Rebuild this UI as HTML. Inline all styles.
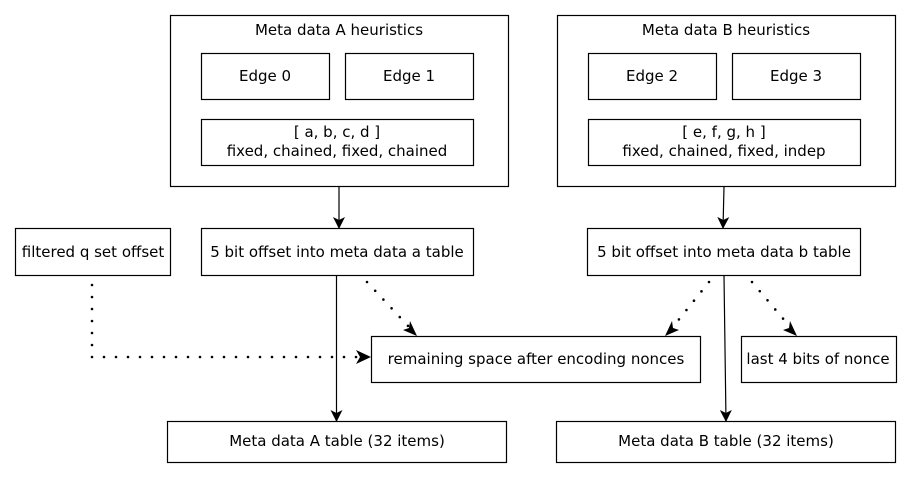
<!DOCTYPE html>
<html><head><meta charset="utf-8"><style>
html,body{margin:0;padding:0;background:#fff;}
svg{display:block;}
text{font-family:"DejaVu Sans","Liberation Sans",sans-serif;font-size:15px;fill:#000;text-anchor:middle;}
</style></head><body>
<svg width="911" height="477" viewBox="0 0 911 477" xmlns="http://www.w3.org/2000/svg">
<defs>
<marker id="ah" markerWidth="12" markerHeight="12" refX="11" refY="6" orient="auto" markerUnits="userSpaceOnUse">
<path d="M0,0 L12,6 L0,12 L3,6 Z" fill="#000"/>
</marker>
</defs>
<g fill="#fff" stroke="#000" stroke-width="1.2">
<rect x="170.5" y="15.5" width="338" height="171"/>
<rect x="201.5" y="53.5" width="128" height="46"/>
<rect x="345.5" y="53.5" width="128" height="46"/>
<rect x="201.5" y="119.5" width="272" height="46"/>
<rect x="557.5" y="15.5" width="338" height="171"/>
<rect x="588.5" y="53.5" width="128" height="46"/>
<rect x="732.5" y="53.5" width="128" height="46"/>
<rect x="588.5" y="119.5" width="272" height="46"/>
<rect x="15.5" y="228.5" width="155" height="47"/>
<rect x="201.5" y="228.5" width="272" height="47"/>
<rect x="587.5" y="228.5" width="273" height="47"/>
<rect x="371.5" y="336.5" width="329" height="46"/>
<rect x="741.5" y="336.5" width="155" height="46"/>
<rect x="167.5" y="421.5" width="339" height="41"/>
<rect x="556.5" y="421.5" width="339" height="41"/>
</g>
<text x="339" y="35">Meta data A heuristics</text>
<text x="265" y="81">Edge 0</text>
<text x="409" y="81">Edge 1</text>
<text x="337" y="137">[ a, b, c, d ]</text>
<text x="337" y="156">fixed, chained, fixed, chained</text>
<text x="726" y="35">Meta data B heuristics</text>
<text x="652" y="81">Edge 2</text>
<text x="796" y="81">Edge 3</text>
<text x="724" y="137">[ e, f, g, h ]</text>
<text x="724" y="156">fixed, chained, fixed, indep</text>
<text x="93" y="257">filtered q set offset</text>
<text x="337" y="257">5 bit offset into meta data a table</text>
<text x="724" y="257">5 bit offset into meta data b table</text>
<text x="536" y="364">remaining space after encoding nonces</text>
<text x="818" y="364">last 4 bits of nonce</text>
<text x="337" y="446">Meta data A table (32 items)</text>
<text x="726" y="446">Meta data B table (32 items)</text>
<g stroke="#000" stroke-width="1.2" fill="none">
<line x1="339" y1="187" x2="339" y2="228" marker-end="url(#ah)"/>
<line x1="724" y1="187" x2="723" y2="228" marker-end="url(#ah)"/>
<line x1="336.5" y1="276" x2="336.5" y2="421" marker-end="url(#ah)"/>
<line x1="724" y1="276" x2="726" y2="421" marker-end="url(#ah)"/>
</g>
<g stroke="#000" stroke-width="2.6" stroke-linecap="round" fill="none" stroke-dasharray="0 12">
<polyline points="92,285 92,357 360,357"/>
<line x1="367" y1="282" x2="410" y2="328"/>
<line x1="709" y1="282" x2="672" y2="328"/>
<line x1="752" y1="282" x2="791" y2="328"/>
</g>
<g fill="#000">
<path d="M371,357 L356,350 L360,357 L356,364 Z"/>
<path d="M417,336 L403,330 L409,328 L410,321 Z"/>
<path d="M665,336 L672,321 L673,328 L679,330 Z"/>
<path d="M797,336 L783,330 L789,328 L790,321 Z"/>
</g>
</svg>
</body></html>
